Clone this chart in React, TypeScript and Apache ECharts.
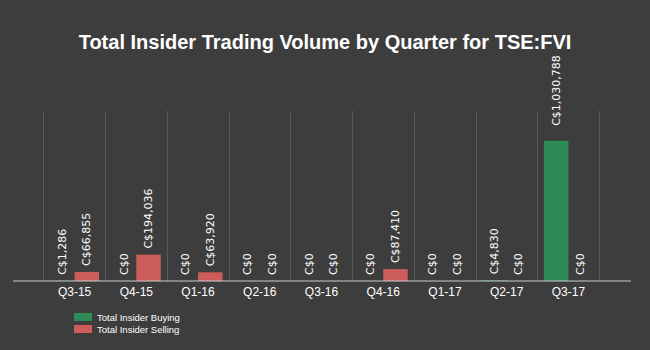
import React, { useEffect, useRef } from "react";
import * as echarts from "echarts";

const categories = ["Q3-15", "Q4-15", "Q1-16", "Q2-16", "Q3-16", "Q4-16", "Q1-17", "Q2-17", "Q3-17"];
const buying = [1286, 0, 0, 0, 0, 0, 0, 4830, 1030788];
const selling = [66855, 194036, 63920, 0, 0, 87410, 0, 0, 0];
const seriesNames = ["Total Insider Buying", "Total Insider Selling"];
const title = "Total Insider Trading Volume by Quarter for TSE:FVI";

const fmt = (v: number) => "C$" + v.toLocaleString("en-US");

export default function App() {
  const ref = useRef<HTMLDivElement>(null);
  useEffect(() => {
    const chart = echarts.init(ref.current!, null, { renderer: "svg" });
    const labelBase = {
      show: true,
      position: "top",
      rotate: 90,
      align: "left",
      verticalAlign: "middle",
      distance: 6,
      color: "#ffffff",
      fontFamily: "DejaVu Sans",
      fontSize: 11,
      formatter: (p: any) => fmt(p.value),
    };
    const mkData = (arr: number[]) =>
      arr.map((v) =>
        v > 500000 ? { value: v, label: { distance: 15 } } : { value: v }
      );
    chart.setOption({
      animation: false,
      backgroundColor: "#3d3d3d",
      title: {
        text: title,
        left: "center",
        top: 27,
        textStyle: {
          color: "#ffffff",
          fontSize: 20,
          fontWeight: "bold",
          fontFamily: "Liberation Sans",
        },
      },
      legend: {
        orient: "vertical",
        left: 74,
        top: 312,
        padding: 0,
        itemWidth: 18,
        itemHeight: 8,
        itemGap: 2,
        icon: "rect",
        textStyle: { color: "#ffffff", fontSize: 9.5, fontFamily: "Liberation Sans" },
        data: seriesNames,
      },
      grid: { left: 43.7, right: 50.7, top: 111, bottom: 69 },
      xAxis: {
        type: "category",
        data: categories,
        axisLine: { show: false },
        axisTick: { show: false },
        axisLabel: { color: "#ffffff", fontSize: 12, fontFamily: "Liberation Sans", margin: 5 },
        splitLine: { show: true, lineStyle: { color: "#5a5a5a", width: 1 } },
      },
      yAxis: {
        type: "value",
        min: 0,
        max: 1250000,
        show: false,
        splitLine: { show: false },
      },
      graphic: [
        {
          type: "line",
          shape: { x1: 13, y1: 281, x2: 631, y2: 281 },
          style: { stroke: "#cccccc", lineWidth: 1 },
          z: 10,
        },
      ],
      series: [
        {
          name: seriesNames[0],
          type: "bar",
          data: mkData(buying),
          itemStyle: { color: "#2e8b57" },
          barWidth: 24.5,
          barGap: "0%",
          label: labelBase,
        },
        {
          name: seriesNames[1],
          type: "bar",
          data: mkData(selling),
          itemStyle: { color: "#cd5c5c" },
          barWidth: 24.5,
          barGap: "0%",
          label: labelBase,
        },
      ],
    });
    return () => chart.dispose();
  }, []);
  return <div ref={ref} style={{ width: 650, height: 350, position: "absolute", left: 0, top: 0 }} />;
}
